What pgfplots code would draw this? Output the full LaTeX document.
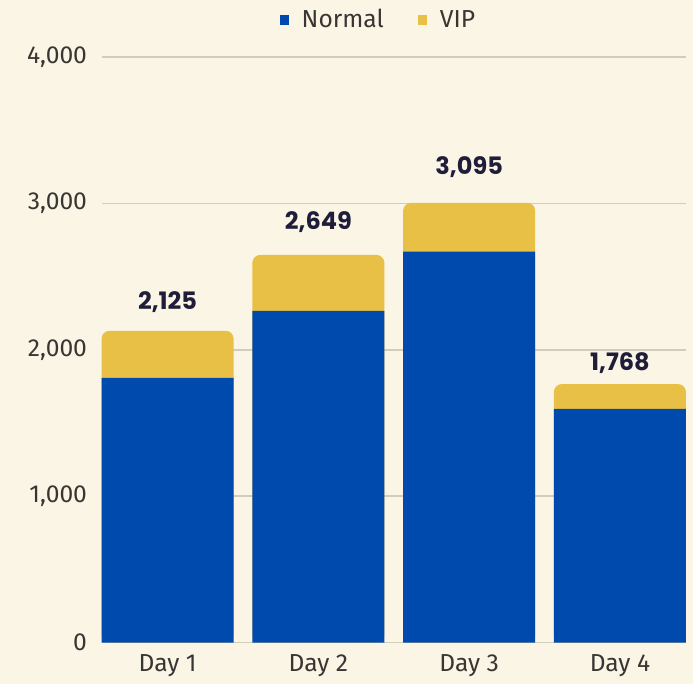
\documentclass[border=0pt]{standalone}
\usepackage{pgfplots}
\pgfplotsset{compat=1.18}
\usepackage{fontspec}
\setmainfont{Fira Sans}
\newfontfamily\poppins{Poppins}
\usetikzlibrary{backgrounds}
\definecolor{bgc}{HTML}{FBF5E6}
\definecolor{nblue}{HTML}{004AAD}
\definecolor{vyellow}{HTML}{E9C046}
\definecolor{gridc}{HTML}{D2CCBC}
\definecolor{txt}{HTML}{383632}
\definecolor{tot}{HTML}{1F1D3A}
\begin{document}
\begin{tikzpicture}
\begin{axis}[
  at={(0,0)}, anchor=south west,
  scale only axis, width=292pt, height=292.8pt,
  xmin=-0.435, xmax=3.438, ymin=0, ymax=4000,
  xtick={0,1,2,3}, xticklabels={Day 1,Day 2,Day 3,Day 4},
  ytick={0,1000,2000,3000,4000},
  /pgf/number format/1000 sep={,},
  /pgf/number format/assume math mode=true,
  ymajorgrids, grid style={gridc, line width=0.8pt},
  axis line style={draw=none}, major tick style={draw=none},
  tick label style={font=\fontsize{12.3}{14}\selectfont, text=txt},
  yticklabel style={xshift=-4pt},
  xticklabel style={yshift=-2.5pt},
  clip=false,
  legend style={at={(0.475,1.063)}, anchor=center, draw=none, fill=none,
    font=\fontsize{12.3}{14}\selectfont, text=txt, legend columns=2,
    /tikz/every even column/.append style={column sep=15pt}},
  legend image code/.code={\fill[#1, draw=none] (0pt,-2.3pt) rectangle (4.6pt,2.3pt); \path[draw=none, fill=none] (0pt,0pt) -- (9pt,0pt);},
]
\addlegendimage{nblue}
\addlegendentry{Normal}
\addlegendimage{vyellow}
\addlegendentry{VIP}
% totals (VIP on top)
\addplot[ybar, bar width=0.876, bar shift=0pt, fill=vyellow, draw=none, rounded corners=4pt, forget plot]
  coordinates {(0,2130) (1,2648) (2,3004) (3,1766)};
% normal
\addplot[ybar, bar width=0.876, bar shift=0pt, fill=nblue, draw=none, forget plot]
  coordinates {(0,1809) (1,2266) (2,2671) (3,1597)};
% total labels
\addplot[draw=none, mark=none, forget plot, nodes near coords, point meta=explicit symbolic,
  every node near coord/.append style={anchor=center, font=\poppins\bfseries\fontsize{12}{14}\selectfont, text=tot}]
  table[meta=lab] {
x y lab
0 2328 2,125
1 2874 2,649
2 3250 3,095
3 1911 1,768
};
\end{axis}
\useasboundingbox (-51pt,-20.7pt) rectangle (295.5pt,321.3pt);
\begin{scope}[on background layer]
\fill[bgc] (-51pt,-20.7pt) rectangle (295.5pt,321.3pt);
\end{scope}
\end{tikzpicture}
\end{document}
